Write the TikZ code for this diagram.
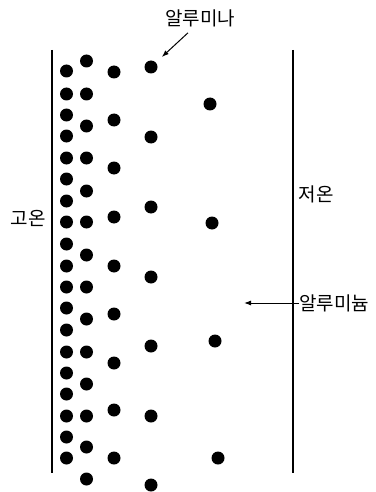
\documentclass[tikz,border=0pt]{standalone}
\usepackage{fontspec}
\setmainfont{Noto Sans CJK KR}
\usetikzlibrary{arrows.meta}

\begin{document}
\begin{tikzpicture}[x=1pt, y=-1pt,
    dot/.style={circle, fill=black, inner sep=0pt, minimum size=13pt},
    wall/.style={black, line width=1.2pt},
    lbl/.style={font=\fontsize{19}{22}\selectfont, inner sep=0pt},
    arr/.style={-{Latex[length=7pt, width=5pt]}, black, line width=1pt}
  ]
  \useasboundingbox (0,0) rectangle (375,492);

  % walls
  \draw[wall] (52,50) -- (52,473);
  \draw[wall] (293,50) -- (293,473);

  % particles, one column at a time
  \foreach \y [count=\i] in {71,94,115,136,158,179,201,222,244,266,287,308,330,352,373,394,416,437,458}
    \node[dot] (a\i) at (66.5,\y) {};
  \foreach \y [count=\i] in {61,94,126,158,191,222,255,287,319,352,384,416,447,479}
    \node[dot] (b\i) at (86.5,\y) {};
  \foreach \y [count=\i] in {72,120,168,217,266,314,363,410,458}
    \node[dot] (c\i) at (114,\y) {};
  \foreach \y [count=\i] in {67,137,207,277,346,416,485}
    \node[dot] (d\i) at (151,\y) {};
  \foreach \x/\y [count=\i] in {210/104,212/223,215/341,218/458}
    \node[dot] (e\i) at (\x,\y) {};

  % labels
  \node[lbl] (alumina) at (200,18) {알루미나};
  \node[lbl] (hot)     at (28,218) {고온};
  \node[lbl] (cold)    at (316,194) {저온};
  \node[lbl, anchor=west] (alu) at (299,303) {알루미늄};
  \coordinate (alutip) at (244,303);

  \draw[arr, shorten >=8pt] ([shift={(-12,6)}]alumina.south) -- (d1);
  \draw[arr] (alu.west) -- (alutip);
\end{tikzpicture}
\end{document}
